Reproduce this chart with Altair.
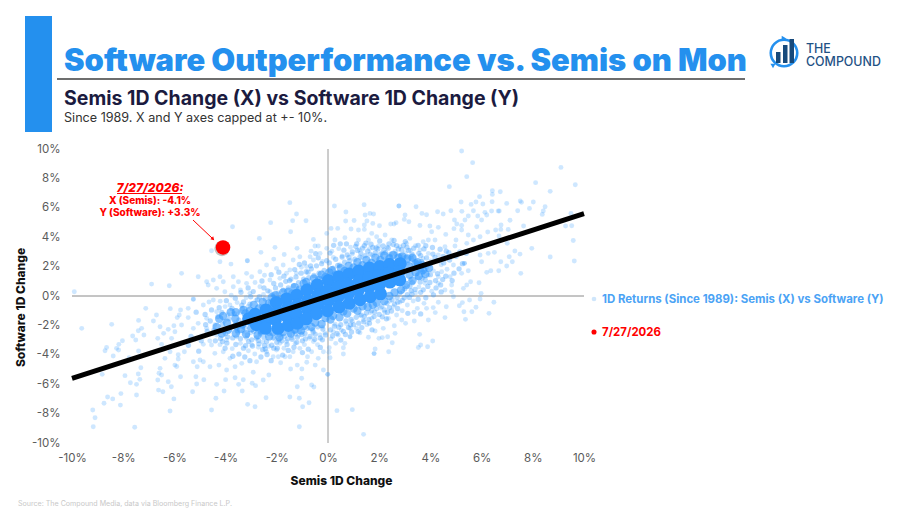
import altair as alt
import pandas as pd

title_text = "Software Outperformance vs. Semis on Mon"
subtitle_text = "Semis 1D Change (X) vs Software 1D Change (Y)"
note_text = "Since 1989. X and Y axes capped at +- 10%."
source_text = "Source: The Compound Media, data via Bloomberg Finance L.P."
legend_a = "1D Returns (Since 1989): Semis (X) vs Software (Y)"
legend_b = "7/27/2026"
ann_lines = ["7/27/2026:", "X (Semis): -4.1%", "Y (Software): +3.3%"]
ticks = [-10, -8, -6, -4, -2, 0, 2, 4, 6, 8, 10]

trend_x = [-10, 10]
trend_y = [-5.6, 5.6]
today_x = [-4.1]
today_y = [3.3]

upper_left = [(-1.49,6.35),(-1.23,5.58),(-1.38,5.12),(-0.86,5.12),(-2.24,4.99),(-3.73,4.71),(-1.46,4.37),(-2.68,3.92),(-0.57,3.85),(-0.38,3.4),(-0.51,3.4),(-2.07,3.31),(-2.62,2.97),(-4.55,3.08),(-4.22,2.33),(-3.79,2.17),(-3.15,2.4),(-3.15,2.4),(-5.72,1.54),(-5.07,1.31),(-6.89,0.81),(-6.2,0.7),(-9.91,0.29),
(-4.74,0.97),(-4.48,1.09),(-4.22,1.31),(-4.09,0.97),(-3.7,1.31),(-3.5,0.97),(-3.18,1.54),(-2.98,1.31),(-2.66,1.65),(-2.4,2.11),(-2.01,1.88),(-1.75,2.11),(-1.36,2.45),(-1.1,2.67),(-0.7,2.67),(-0.31,2.9),(-0.05,3.24),(-1.49,1.77),(-5.26,-0.23),(-4.03,0.29),(-4.68,0.75),(-3.7,0.63),(-3.18,0.86),(-2.66,0.63),(-4.35,0.52),(-3.05,0.18),(-2.27,1.09),(-1.88,1.2),(-1.23,1.54),(-0.84,2.0),(-0.57,2.45),(-2.27,0.29),(-3.42,0.41),(-2.85,0.92),(-2.48,1.41),(-1.62,1.55),(-1.04,1.96),(-0.22,2.35),(-0.66,3.05),(-1.71,2.82),(-2.12,2.51),(-1.21,3.24)]

lower_left = [(-9.62,-2.2),(-8.45,-1.93),(-7.12,-0.84),(-6.16,-0.86),(-6.7,-1.29),(-6.82,-1.7),(-7.4,-1.66),(-7.28,-2.2),(-7.41,-2.36),(-7.19,-2.65),(-7.63,-2.72),(-7.51,-2.99),(-8.03,-3.04),(-8.17,-3.29),(-8.26,-3.56),(-8.18,-3.67),(-8.65,-3.5),(-8.71,-3.72),(-8.39,-4.08),(-7.4,-3.74),(-7.77,-4.2),(-8.82,-5.33),(-7.93,-5.42),(-7.31,-4.88),(-7.41,-5.31),(-7.35,-5.67),(-7.72,-5.9),(-7.48,-6.01),(-8.61,-6.87),(-8.41,-7.0),(-8.09,-6.64),(-8.75,-7.3),(-8.11,-7.42),(-9.19,-7.76),(-9.1,-8.28),(-9.17,-8.89),(-7.55,-8.93),(-7.48,-6.73),(-6.62,-6.4),(-6.45,-6.51),(-6.24,-5.83),(-6.12,-6.17),(-6.02,-7.0),(-6.17,-7.82),(-6.65,-5.71),(-6.6,-5.26),(-6.5,-5.37),(-6.56,-4.92),(-5.98,-4.7),(-5.85,-4.29),(-5.91,-4.8),(-5.76,-5.49),(-5.29,-6.51),(-5.13,-5.99),(-4.85,-5.7),(-5.16,-5.49),(-4.55,-7.76),(-4.38,-6.96),(-4.35,-6.01),(-4.06,-6.46),(-4.0,-5.69),(-3.63,-5.56),(-3.49,-6.01),(-3.35,-6.46),(-3.31,-5.7),(-3.14,-7.37),(-2.85,-7.53),(-2.96,-5.94),(-2.83,-6.1),(-2.53,-5.71),(-2.31,-5.37),(-2.42,-6.92),(-1.49,-6.87),(-1.12,-6.96),(-0.99,-7.53),(-0.74,-7.26),(-1.2,-6.17),(-1.03,-5.6),(-0.64,-6.05),(-0.55,-6.19),(-1.12,-8.89),(-1.2,-4.7),(-1.46,-4.97),(-1.02,-4.97),(-0.83,-4.51),(-0.5,-4.7),(-0.18,-5.03),(-0.01,-5.33),(-0.8,-4.13),(-0.64,-3.79),(-0.38,-4.24),(-1.85,-4.54),(-2.14,-4.13),(-1.94,-4.13),(-1.68,-4.13),(-1.49,-4.13),
(-5.46,-0.84),(-4.87,-0.61),(-5.76,-0.95),(-5.81,-1.29),(-5.89,-1.47),(-5.46,-1.47),(-6.24,-2.27),(-6.42,-2.54),(-5.98,-2.43),(-6.02,-2.02),(-6.56,-2.09),(-6.65,-2.88),(-6.5,-3.29),(-6.11,-2.88),(-5.72,-1.97),(-5.26,-2.2),(-5.07,-1.86),(-4.74,-1.52),(-4.35,-1.07),(-4.48,-0.27),(-5.26,-0.2),(-3.83,-0.61),(-5.61,-3.79),(-5.85,-4.0),(-6.17,-3.79),(-6.37,-4.24),(-5.26,-4.47),(-5.0,-4.35),(-5.11,-4.81),(-4.87,-4.47),(-4.61,-4.81),(-4.26,-4.7),(-4.42,-3.9),(-4.09,-3.79),(-4.55,-3.33),(-4.87,-3.29),(-3.83,-4.24),(-3.96,-5.03),(-3.63,-4.81),(-3.37,-4.58),(-2.92,-5.19),(-2.98,-3.33),(-2.72,-3.49),(-2.4,-3.79),(-2.79,-4.47),(-3.18,-2.88),(-3.57,-2.77),(-3.96,-2.99),(-4.35,-2.65),(-4.74,-2.2),(-2.66,-2.65),(-2.14,-2.88),(-2.01,-3.67),(-1.36,-3.79),(-1.1,-3.56),(-1.62,-3.1),(-0.57,-3.1),(-0.18,-3.79),(-0.31,-2.65),
(-4.93,-2.71),(-4.62,-3.05),(-4.22,-3.31),(-3.74,-3.58),(-3.42,-3.22),(-3.11,-3.72),(-2.86,-3.95),(-2.55,-3.12),(-2.31,-3.42),(-1.88,-3.22),(-1.72,-3.55),(-1.28,-3.22),(-0.92,-3.31),(-0.72,-2.88),(-0.41,-3.31),(-4.12,-2.41),(-3.85,-2.32),(-3.31,-2.41),(-3.02,-2.51),(-2.72,-2.18),(-2.41,-2.42),(-2.05,-2.52),(-1.81,-2.72),(-1.42,-2.85),(-1.15,-2.68),(-3.62,-1.78),(-3.28,-1.92),(-4.05,-1.72),(-4.42,-1.95),(-3.91,-1.28),(-3.45,-1.12),(-3.12,-0.71),(-3.55,-0.45),(-4.02,-0.72),(-2.81,-0.28),(-3.2,-0.12),(-2.52,0.11),(-4.21,-0.35),(-4.65,-0.41),(-3.78,0.05)]

upper_right = [(5.22,9.86),(5.65,9.07),(5.42,8.12),(4.74,7.44),(9.1,8.75),(8.11,7.71),(9.66,7.57),(8.68,7.12),(6.42,7.16),(6.42,6.91),(6.73,7.09),(5.92,6.76),(5.2,6.39),(5.59,6.23),(5.78,6.39),(6.05,6.26),(6.41,6.41),(6.98,6.3),(7.51,6.46),(7.56,6.37),(8.02,6.39),(7.87,5.96),(8.48,6.07),(8.41,5.78),(8.37,5.55),(7.41,5.8),(9.49,5.62),(9.28,4.76),(9.52,4.78),(9.58,3.78),(9.62,2.38),(8.68,2.65),(7.96,3.24),(7.53,1.54),(7.64,4.76),(7.11,5.15),(6.76,4.83),(7.04,4.53),(6.75,4.53),(6.55,4.49),(6.65,5.78),(6.69,5.78),(6.39,5.78),(6.13,5.69),(6.2,5.51),(5.68,5.8),(5.23,5.76),(4.8,5.8),(4.5,5.58),(4.28,5.73),(3.85,5.53),(3.67,5.62),(3.44,6.07),(2.77,6.12),(2.77,6.12),(1.41,6.21),(0.25,6.12),(0.7,5.71),(1.45,5.51),(1.64,5.62),(1.78,5.58),(0.69,5.1),(1.02,5.14),(1.52,5.1),(1.75,4.94),(1.42,4.83),(2.45,4.9),(2.58,4.9),(2.66,4.99),(3.01,5.51),(2.98,5.21),(3.16,5.05),(2.01,4.78),(0.9,4.56),(1.19,4.49),(0.38,4.6),(0.12,4.6),(-0.05,4.26),(1.42,4.53),(1.71,4.26),(3.59,4.8),(3.98,4.76),(4.31,4.67),(4.05,4.37),(4.94,5.17),(5.03,4.9),(5.22,4.8),(5.35,5.17),(5.48,5.44),(5.85,5.44),(6.0,5.17),(5.81,4.71),(6.24,4.35),(5.48,4.15),(5.22,4.49),(4.6,4.19),(4.92,4.58),(5.0,3.81),(5.42,3.58),(5.68,3.81),(5.94,4.03),(6.68,4.08),(7.0,3.58),(7.5,2.85),(7.3,3.06),(7.08,2.67),(7.2,2.33),(6.98,2.04),(6.75,2.33),(6.5,2.97),(6.26,2.9),(5.94,2.79),(6.0,2.33),(6.2,1.61),(6.36,1.72),(6.67,1.72),(5.48,1.72),(5.33,2.22),(5.33,2.22),(5.42,0.75),(5.9,0.9),(5.98,0.18),(5.57,0.97),(5.29,0.52),(4.83,0.75),(4.44,1.65),(4.9,2.11),(5.22,1.54),(4.77,1.31),(4.31,1.31),(3.79,0.86),(4.31,0.86),(4.57,0.41),(4.83,0.29),(3.72,3.69),(3.2,3.92),(2.81,3.35),(2.23,4.15),(1.9,4.03),(1.19,3.81),(0.66,3.97),(0.27,3.81),(1.58,3.81),(2.49,3.81),(3.07,3.58),(3.92,3.81),(4.18,3.81),(4.57,3.35),(4.96,3.4),(4.31,2.79),(3.92,2.9),(3.59,3.13),
(3.21,3.12),(3.42,3.42),(3.02,2.95),(3.35,2.62),(3.71,2.55),(4.02,2.38),(4.42,2.12),(4.65,1.82),(3.85,1.92),(3.51,1.55),(3.91,1.42),(4.12,1.71),(3.22,1.12),(3.05,0.72),(3.55,0.62),(2.92,0.35),(3.42,0.21),(4.05,0.32),(2.62,3.05),(2.31,3.32),(1.98,3.42),(1.62,3.21),(1.22,3.15),(0.88,3.32),(0.42,3.22),(0.15,3.05),(2.42,2.72),(2.12,2.91),(2.85,2.48),(3.12,2.22),(1.75,2.78),(1.32,2.62),(0.95,2.85),(0.55,2.72),(0.21,2.62)]

lower_right = [(1.39,-9.41),(0.35,-7.8),(0.95,-7.73),(-0.01,-5.33),(1.8,-3.92),(1.8,-3.92),(2.37,-3.79),(1.84,-3.6),(3.53,-3.5),(3.62,-3.33),(3.89,-3.45),(4.09,-3.06),(3.58,-2.61),(2.51,-3.18),(2.12,-2.83),(1.99,-2.88),(2.33,-2.77),(2.62,-2.54),(1.58,-2.81),(0.6,-3.95),(0.6,-3.52),(0.66,-3.22),(0.3,-3.22),(0.05,-3.52),(0.04,-3.83),(0.08,-4.2),(0.86,-2.77),(0.86,-2.77),(0.4,-2.65),(0.21,-2.43),(1.25,-2.5),(1.84,-2.38),(2.16,-2.2),(3.37,-1.7),(3.92,-1.63),(3.03,-1.86),(2.88,-1.63),(2.59,-2.02),(4.57,-1.47),(5.37,-1.59),(4.19,-1.13),(5.31,-1.07),(5.62,-1.07),(6.29,-1.18),(5.78,-0.77),(5.13,-0.66),(6.48,-0.43),(5.25,-0.45),(5.53,-0.27),(5.94,-0.2),(4.62,-0.73),(4.31,-0.43),(3.85,-0.84),(4.11,-0.79),(3.49,-0.84),(3.36,-1.11),(3.75,-0.5),(3.33,-0.34),(4.9,-0.05),(2.9,-1.0),(2.68,-1.29),(2.36,-1.52),(1.71,-1.52),(1.38,-1.63),(1.12,-2.2),(0.86,-2.2),
(0.12,-2.92),(-0.12,-2.52),(0.52,-2.32),(0.72,-1.88),(0.95,-1.72),(0.28,-1.92),(-0.22,-2.12),(1.52,-1.95),(1.95,-1.72),(2.22,-1.12),(2.55,-0.72),(2.81,-0.42),(3.1,-0.61),(2.42,-0.35),(2.05,-0.82),(1.65,-1.12),(1.25,-1.32)]

# the crowded fringe round the solid part of the cloud
fringe_left = [(-4.6,-1.7),(-4.45,-2.3),(-4.3,-1.4),(-4.2,-2.9),(-4.12,-1.95),(-4.0,-2.55),(-3.95,-3.2),(-3.88,-1.55),(-3.8,-2.1),(-3.72,-2.85),(-3.66,-1.2),(-3.6,-3.3),(-3.55,-2.35),(-3.48,-1.65),(-3.42,-2.9),(-3.35,-0.85),(-3.3,-3.55),(-3.25,-2.15),(-3.2,-1.4),(-3.15,-2.65),(-3.1,-3.1),(-3.05,-0.55),(-3.0,-1.85),(-2.95,-3.4),(-2.9,-2.4),(-2.85,-1.05),(-2.8,-2.85),(-2.75,-0.25),(-2.7,-3.25),(-2.65,-2.55),(-2.6,-0.7),(-2.55,-3.65),(-2.5,-2.8),(-2.45,-0.2),(-2.4,-3.1),(-2.35,0.35),(-2.3,-2.55),(-2.25,-0.45),(-2.2,-3.35),(-2.15,0.1),(-2.1,-2.85),(-2.05,0.55),(-2.0,-3.15),(-1.95,0.2),(-1.9,-2.65),(-1.85,0.75),(-1.8,-3.05),(-1.75,0.4),(-1.7,-2.75),(-1.65,1.0),(-1.6,-3.3),(-1.55,0.55),(-1.5,-2.6),(-1.45,1.15),(-1.4,-2.95),(-1.35,0.7),(-1.3,-2.35),(-1.25,1.3),(-1.2,-2.8),(-1.15,0.9),(-1.1,-2.4),(-1.05,1.55),(-1.0,-3.05),(-0.95,1.15),(-0.9,-2.55),(-0.85,1.65),(-0.8,-2.2),(-0.75,1.25),(-0.7,-2.75),(-0.65,1.85),(-0.6,-2.3),(-0.55,1.4),(-0.5,-2.6),(-0.45,2.05),(-0.4,-2.1),(-0.35,1.55),(-0.3,-2.85),(-0.25,2.2),(-0.2,-2.25),(-0.15,1.75),(-0.1,-2.65),(-0.05,2.4),
(-3.75,-0.85),(-3.62,-0.15),(-3.4,0.25),(-3.3,-0.4),(-3.02,-0.05),(-2.92,0.3),(-2.68,-0.05),(-2.5,0.55),(-2.12,0.85),(-1.72,1.35),(-1.5,1.05),(-1.3,1.8),(-0.92,2.25),(-0.68,2.05),(-0.38,2.6),
(-3.25,-4.15),(-3.05,-4.4),(-2.62,-4.15),(-2.45,-3.6),(-2.22,-4.4),(-1.98,-3.55),(-1.55,-3.7),(-1.22,-3.15),(-1.0,-3.85),(-0.52,-2.95),(-0.3,-3.5),(-3.72,-4.1),(-4.02,-3.55),(-4.4,-3.05),(-4.72,-2.4),
(-4.55,-0.95),(-4.25,-0.8),(-4.8,-1.25),(-5.15,-1.1),(-5.35,-2.75),(-4.95,-3.05),(-5.45,-3.35),(-5.05,-3.75),(-3.48,-3.95),(-4.78,-1.95),(-4.15,-1.12),(-3.97,-0.32),(-3.37,-0.62),(-2.22,1.45),(-1.92,1.62),(-2.58,1.02),(-3.12,0.55),(-0.78,1.62),(-1.12,2.15),(-0.48,2.88),
(-2.38,-3.98),(-1.77,-4.02),(-1.33,-3.48),(-0.77,-3.62),(-0.22,-2.98),(-0.58,-2.45),(-1.02,-2.62),(-1.58,-2.92),(-2.12,-3.55),(-2.72,-3.02),(-3.52,-2.45),(-3.92,-2.78),(-4.12,-3.1),(-4.5,-2.52),(-2.98,-2.98),(-3.22,-3.38),(-2.48,-3.38),(-1.92,-2.98),(-1.27,-2.58),(-0.88,-2.92)]

fringe_right = [(0.05,2.25),(0.1,-2.3),(0.2,1.9),(0.25,-2.05),(0.3,2.5),(0.35,-2.55),(0.45,2.1),(0.5,-1.95),(0.55,2.65),(0.6,-2.4),(0.65,2.3),(0.7,-1.7),(0.75,2.8),(0.8,-2.15),(0.85,2.4),(0.9,-1.6),(0.95,3.0),(1.0,-1.95),(1.05,2.5),(1.1,-1.45),(1.15,3.1),(1.2,-1.85),(1.25,2.65),(1.3,-1.3),(1.35,3.25),(1.4,-1.75),(1.45,2.75),(1.5,-1.15),(1.55,3.05),(1.6,-1.6),(1.65,2.85),(1.7,-1.0),(1.75,3.3),(1.8,-1.4),(1.85,2.95),(1.9,-0.85),(1.95,3.2),(2.0,-1.25),(2.05,2.85),(2.1,-0.7),(2.15,3.4),(2.2,-0.95),(2.25,2.95),(2.3,-0.5),(2.35,3.25),(2.4,-0.8),(2.45,2.85),(2.5,-0.25),(2.55,3.5),(2.6,-0.55),(2.65,2.85),(2.7,-0.1),(2.75,3.2),(2.8,0.2),(2.85,2.75),(2.9,-0.3),(2.95,3.45),(3.0,0.5),(3.05,2.65),(3.1,0.1),(3.15,3.1),(3.2,0.65),(3.25,2.55),(3.3,0.9),(3.35,3.25),(3.4,0.45),(3.45,2.2),(3.5,1.25),(3.55,2.9),(3.6,0.95),(3.65,2.35),(3.7,1.6),(3.75,3.2),(3.8,1.1),(3.85,2.6),(3.9,0.65),(3.95,2.15),(4.0,1.45),(4.1,2.85),(4.2,1.05),(4.3,2.4),(4.4,0.75),(4.5,2.7),(4.6,1.35),(4.75,2.45),(4.85,1.05),(5.0,2.7),
(0.5,-3.0),(0.92,-2.45),(1.32,-2.15),(1.72,-2.3),(2.28,-1.55),(2.72,-0.85),(3.18,-0.1),(3.62,0.25),(0.22,3.45),(0.72,3.55),(1.12,3.55),(1.48,3.6),(2.02,3.75),(2.58,3.78),(3.02,3.7),(3.52,3.45),(4.08,3.3),(4.62,3.05),(5.15,3.0),(5.25,2.2),(5.4,2.9),(4.22,0.55),
(0.08,2.92),(0.38,2.08),(0.62,3.12),(0.48,3.55),(0.82,2.62),(1.08,3.38),(1.28,2.92),(1.42,3.42),(1.68,3.52),(1.88,3.28),(2.18,3.12),(2.38,3.55),(2.68,3.42),(2.88,3.15),(3.08,3.32),(3.28,2.85),(3.62,2.75),(3.82,3.42),(4.18,2.62),(4.38,3.18),(4.52,2.25),(4.72,2.95),(4.92,1.55),(5.12,1.85),(3.72,0.42),(3.98,0.92),(4.28,1.52),(4.48,1.12),(3.25,0.35),(3.68,1.22),(0.18,-2.72),(0.42,-2.12),(0.68,-2.62),(0.88,-1.95),(1.18,-2.42),(1.42,-1.38),(1.62,-1.85),(1.82,-1.08),(2.12,-1.42),(2.32,-1.12),(2.48,-1.02),(2.72,-0.42),(2.98,-0.12),(3.28,0.12),(3.52,-0.22),(3.82,-0.12),(4.12,0.08),(4.42,0.28),(3.12,-1.18),(3.62,-1.22)]

halo = [(-4.1,-1.35),(-3.8,-1.1),(-3.6,-1.1),(-3.3,-0.95),(-3.05,-1.0),(-2.9,-0.6),(-2.7,-0.85),(-2.55,-0.4),(-2.3,-0.5),(-2.2,-0.1),(-2.05,0.05),(-1.85,-0.25),(-1.75,0.25),(-1.55,0.3),(-1.4,0.15),(-1.3,0.6),(-1.1,0.45),(-0.95,0.85),(-0.85,0.95),(-0.7,0.65),(-0.55,1.2),(-0.35,1.1),(-0.25,1.45),(-0.1,1.3),(0.05,1.6),(0.15,1.75),(0.3,1.45),(0.5,1.9),(0.65,1.7),(0.8,2.05),(1.0,1.95),(1.15,2.3),(1.35,2.1),(1.5,2.45),(1.7,2.25),(1.85,2.6),(2.05,2.45),(2.2,2.75),(2.4,2.55),(2.55,2.8),(2.75,2.6),(2.9,2.7),(3.1,2.55),(3.3,2.6),(3.5,2.3),(3.6,1.9),(3.95,1.9),
(-4.35,-2.1),(-4.15,-2.55),(-3.9,-2.3),(-3.6,-2.55),(-3.4,-2.25),(-3.2,-2.6),(-3.0,-2.2),(-2.75,-2.65),(-2.6,-2.35),(-2.3,-2.75),(-2.15,-2.45),(-1.9,-2.8),(-1.75,-2.45),(-1.45,-2.55),(-1.3,-2.3),(-1.05,-2.35),(-0.95,-2.05),(-0.65,-2.1),(-0.5,-1.8),(-0.25,-1.9),(-0.1,-1.5),(0.1,-1.6),(0.2,-1.35),(0.45,-1.45),(0.6,-1.05),(0.75,-1.2),(1.0,-0.85),(1.15,-1.0),(1.35,-0.7),(1.55,-0.75),(1.75,-0.6),(1.9,-0.45),(2.2,-0.35),(2.4,0.0),(2.6,0.25),(2.85,0.4),(3.05,0.75),(3.3,1.05),(3.55,1.35),(3.8,1.5),
(-3.62,-1.55),(-3.95,-1.82),(-4.25,-1.55),(-3.58,-2.05),(-3.22,-1.18),(3.42,2.22),(3.68,2.12),(3.42,1.62),(3.72,1.78),(-3.35,-1.95),(3.15,2.05),(3.18,1.45)]

core = [(-3.1,-1.55),(-2.85,-1.25),(-2.8,-1.95),(-2.42,-0.95),(-2.38,-1.6),(-2.45,-2.2),(-2.02,-0.45),(-1.98,-1.05),(-2.05,-1.6),(-1.95,-2.2),(-1.62,-0.2),(-1.58,-0.8),(-1.6,-1.4),(-1.55,-2.0),(-1.22,0.05),(-1.18,-0.6),(-1.25,-1.2),(-1.2,-1.85),(-0.82,0.4),(-0.78,-0.3),(-0.8,-0.9),(-0.85,-1.55),(-0.42,0.75),(-0.38,0.1),(-0.4,-0.55),(-0.45,-1.2),(0.02,1.05),(-0.03,0.35),(0.03,-0.3),(-0.02,-1.0),(0.42,1.3),(0.38,0.6),(0.4,-0.05),(0.43,-0.75),(0.82,1.5),(0.78,0.8),(0.8,0.15),(0.83,-0.5),(1.2,1.7),(1.22,1.05),(1.18,0.4),(1.25,-0.25),(1.62,1.9),(1.58,1.25),(1.6,0.6),(1.65,-0.05),(2.02,2.0),(1.98,1.4),(2.0,0.75),(2.05,0.15),(2.4,2.15),(2.38,1.55),(2.42,0.95),(2.82,2.2),(2.78,1.65),(2.8,1.1)]

BLUE = "#2490ee"
DOT = "#3399ff"
FONT = "Inter"
OX, OY = 72, 149

def df(*lists):
    rows = [p for l in lists for p in l]
    return pd.DataFrame(rows, columns=["x", "y"])

one = alt.Data(values=[{"a": 1}])

def txt(s, px, py, size, color, weight="normal", align="left", style=None, angle=None, font=FONT):
    kw = dict(fontSize=size, color=color, fontWeight=weight, align=align, baseline="alphabetic", font=font)
    if style:
        kw["fontStyle"] = style
    if angle is not None:
        kw["angle"] = angle
    return alt.Chart(one).mark_text(**kw).encode(
        x=alt.value(px - OX), y=alt.value(py - OY), text=alt.value(s))

def box(x0, y0, x1, y1, color):
    return alt.Chart(one).mark_rect(color=color).encode(
        x=alt.value(x0 - OX), x2=alt.value(x1 - OX), y=alt.value(y0 - OY), y2=alt.value(y1 - OY))

def seg(x0, y0, x1, y1, color, w):
    return alt.Chart(one).mark_rule(color=color, strokeWidth=w).encode(
        x=alt.value(x0 - OX), x2=alt.value(x1 - OX), y=alt.value(y0 - OY), y2=alt.value(y1 - OY))

def pt(px, py, size, color, **kw):
    return alt.Chart(one).mark_point(size=size, color=color, opacity=1, **kw).encode(
        x=alt.value(px - OX), y=alt.value(py - OY))

xs = alt.Scale(domain=[-10, 10], nice=False)
ys = alt.Scale(domain=[-10, 10], nice=False)
lab = dict(grid=False, domain=False, ticks=False, values=ticks, labelExpr="datum.value + '%'",
           labelFlush=False, labelOverlap=False, labelBound=False,
           labelFont=FONT, labelFontSize=11.5, labelColor="#5a5a5a", titleFont=FONT,
           titleFontSize=12, titleFontWeight=800, titleColor="#111111")
xax = alt.Axis(title="Semis 1D Change", labelPadding=9, titleX=269, titleY=32, **lab)
yax = alt.Axis(title="Software 1D Change", labelPadding=12, titleX=-45, titleY=158, **lab)

def enc(chart):
    return chart.encode(x=alt.X("x:Q", scale=xs, axis=xax), y=alt.Y("y:Q", scale=ys, axis=yax))

points = enc(alt.Chart(df(upper_left, lower_left, upper_right, lower_right)).mark_circle(size=24, color=DOT, opacity=0.24))
band = enc(alt.Chart(df(fringe_left, fringe_right)).mark_circle(size=28, color=DOT, opacity=0.36))
halo_m = enc(alt.Chart(df(halo)).mark_circle(size=70, color=DOT, opacity=0.6))
blob = enc(alt.Chart(df(core)).mark_circle(size=170, color=DOT, opacity=1))

zero_v = alt.Chart(pd.DataFrame({"x": [0]})).mark_rule(color="#9a9a9a", strokeWidth=1).encode(x=alt.X("x:Q", scale=xs, axis=xax))
zero_h = alt.Chart(pd.DataFrame({"y": [0]})).mark_rule(color="#8a8a8a", strokeWidth=1).encode(y=alt.Y("y:Q", scale=ys, axis=yax))
trend = enc(alt.Chart(pd.DataFrame({"x": trend_x, "y": trend_y})).mark_line(color="#000000", strokeWidth=5))

today = pd.DataFrame({"x": today_x, "y": today_y})
shadow = enc(alt.Chart(today).mark_circle(size=235, color="#777777", opacity=0.45, xOffset=-1, yOffset=1))
red = enc(alt.Chart(today).mark_circle(size=210, color="#ff0000", opacity=1))

layers = [
    box(25, 16, 52, 132, BLUE),
    seg(57, 79, 745, 79, "#6e6e6e", 2),
    txt(title_text, 64, 71, 30.9, BLUE, 900),
    txt(subtitle_text, 64, 105, 19.5, "#1b1b3f", 700),
    txt(note_text, 64, 122, 12.6, "#333333"),
    pt(784, 53, 700, BLUE, filled=False, strokeWidth=2.6),
    pt(784, 38.5, 28, BLUE, filled=True, shape="triangle-right"),
    pt(773, 66, 26, BLUE, filled=True, shape="triangle-down"),
    box(776, 52, 780.5, 63, "#174a7c"),
    box(783, 45, 787.5, 63, "#174a7c"),
    box(789.5, 39, 794, 63, "#174a7c"),
    txt("THE", 806, 53, 12.4, "#1f5285", 500),
    txt("COMPOUND", 806, 66, 12.4, "#1f5285", 500),
    zero_v, zero_h, points, band, halo_m, blob, trend, shadow, red,
    txt(ann_lines[0], 150, 192, 12, "#ff0000", 800, "center", "italic"),
    seg(117, 193.5, 182, 193.5, "#ff0000", 1),
    txt(ann_lines[1], 150, 204, 10, "#ff0000", 800, "center"),
    txt(ann_lines[2], 150, 216, 10, "#ff0000", 800, "center"),
    seg(193, 220, 212, 238, "#ff0000", 1),
    pt(213, 239, 16, "#ff0000", filled=True, shape="triangle-up", angle=135),
    pt(594, 299, 22, "#cfe6fb", filled=True),
    txt(legend_a, 602, 303, 11.45, "#4ba3f5", 700),
    pt(594, 332, 26, "#ff0000", filled=True),
    txt(legend_b, 602, 336, 11.45, "#ff0000", 700),
    txt(source_text, 18, 506, 7.1, "#c8c8c8"),
]

chart = alt.layer(*layers).properties(
    width=512, height=294,
    padding={"left": 64, "top": 141, "right": 321, "bottom": 71},
    autosize=alt.AutoSizeParams(type="none"),
    background="white",
).configure_view(stroke=None)

chart.save("out.html", embed_options={"renderer": "svg", "actions": False})
